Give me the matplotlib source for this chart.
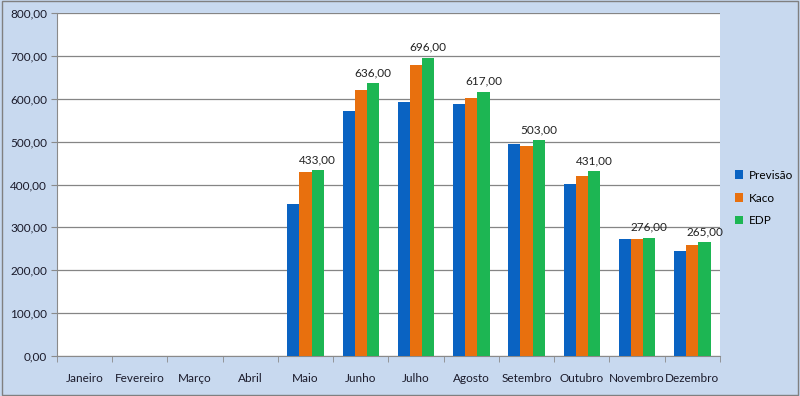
import matplotlib.pyplot as plt
import numpy as np

meses = ["Janeiro", "Fevereiro", "Março", "Abril", "Maio", "Junho", "Julho",
         "Agosto", "Setembro", "Outubro", "Novembro", "Dezembro"]
previsao = [0, 0, 0, 0, 355, 571, 593, 589, 495, 402, 273, 245]
kaco = [0, 0, 0, 0, 429, 621, 679, 603, 491, 420, 273, 259]
edp = [0, 0, 0, 0, 433, 636, 696, 617, 503, 431, 276, 265]

plt.rcParams['font.family'] = ['Lato', 'DejaVu Sans']

fig = plt.figure(figsize=(8, 3.96), dpi=100, facecolor='#c8d9ef')
ax = fig.add_axes([0.071, 0.101, 0.829, 0.866])
ax.set_facecolor('white')

x = np.arange(len(meses))
w = 0.22
ax.bar(x - w, previsao, w, color='#0a63c2', label='Previsão', zorder=3)
ax.bar(x, kaco, w, color='#e8700e', label='Kaco', zorder=3)
ax.bar(x + w, edp, w, color='#1db653', label='EDP', zorder=3)

for xi, v in zip(x, edp):
    if v > 0:
        ax.text(xi + w, v + 12, f"{v},00", ha='center', va='bottom', fontsize=8.5, color='#222222')

ax.set_xlim(-0.5, len(meses) - 0.5)
ax.set_ylim(0, 800)
ax.set_yticks(np.arange(0, 801, 100))
ax.set_yticklabels([f"{v},00" for v in range(0, 801, 100)], fontsize=8.5, color='#1a1a2a')
ax.grid(axis='y', color='#858585', linewidth=0.9, zorder=0)

ax.set_xticks(x)
ax.set_xticklabels(meses, fontsize=8.5, color='#1a1a2a')
ax.tick_params(axis='x', which='major', length=0, pad=12)
ax.set_xticks(np.arange(-0.5, len(meses), 1), minor=True)
ax.tick_params(axis='x', which='minor', length=4, color='#8a8a8a')
ax.tick_params(axis='y', length=4, color='#8a8a8a', pad=3)

for s in ['top', 'right']:
    ax.spines[s].set_visible(False)
ax.spines['left'].set_color('#8a8a8a')
ax.spines['bottom'].set_color('#8a8a8a')

fig.legend(loc='center left', bbox_to_anchor=(0.905, 0.5), frameon=False,
           fontsize=8.5, handlelength=0.7, handleheight=0.7, labelspacing=1.0,
           handletextpad=0.5)

fig.patches.append(plt.Rectangle((0.002, 0.003), 0.996, 0.994, transform=fig.transFigure,
                                 fill=False, edgecolor='#808080', linewidth=1))

fig.savefig('out.png', dpi=100, facecolor=fig.get_facecolor())
